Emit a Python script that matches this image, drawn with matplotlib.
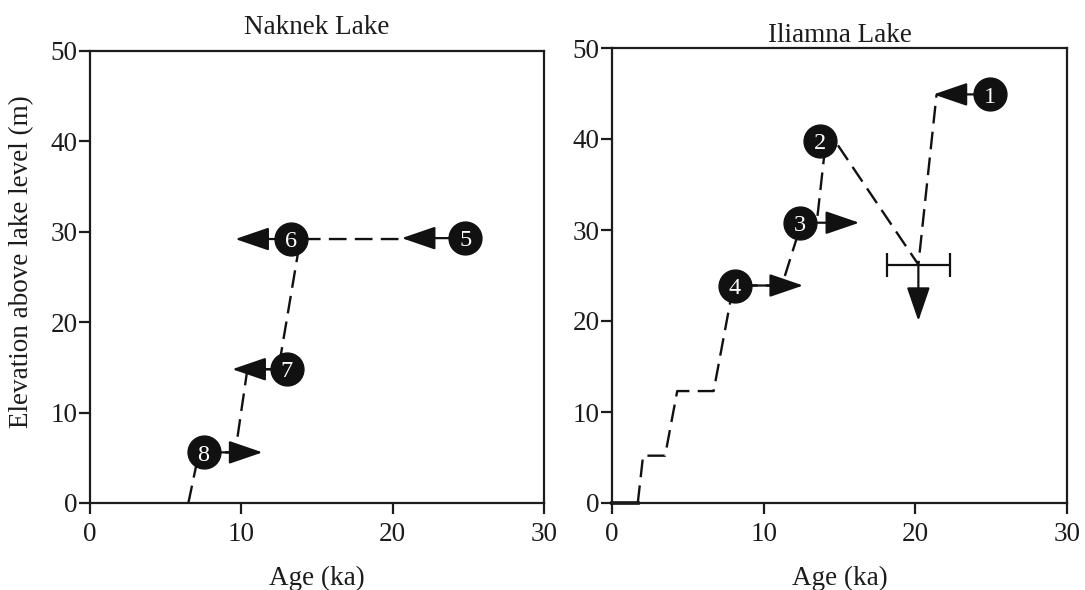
import matplotlib
matplotlib.use("Agg")
import matplotlib.pyplot as plt
from matplotlib.patches import FancyArrowPatch

plt.rcParams['font.family'] = ['Liberation Serif', 'DejaVu Serif']

# Naknek Lake: dated samples (age ka, elevation m) and arrow tips
naknek_ids = ['5', '6', '7', '8']
naknek_age = [24.8, 13.3, 13.0, 7.5]
naknek_elev = [29.3, 29.2, 14.8, 5.6]
naknek_tip = [20.6, 9.6, 9.4, 11.4]

# Naknek inferred lake-level curve
naknek_curve_age = [6.5, 7.2, 9.6, 10.4, 12.45, 13.9, 20.8]
naknek_curve_elev = [0, 5.6, 5.6, 14.8, 14.8, 29.2, 29.2]

# Iliamna Lake samples
iliamna_ids = ['1', '2', '3', '4']
iliamna_age = [24.9, 13.7, 12.4, 8.1]
iliamna_elev = [44.9, 39.8, 30.8, 23.9]
iliamna_tip = [21.2, None, 16.3, 12.6]

# Iliamna sample with age uncertainty (maximum elevation)
err_age = 20.2
err_elev = 26.2
err_xerr = 2.1
err_tip_elev = 20.0

# Iliamna lake-level curve
iliamna_base_age = [0, 1.7]
iliamna_base_elev = [0, 0]
iliamna_curve_age = [1.7, 2.05, 3.5, 4.3, 6.7, 8.0, 11.2, 12.5, 13.5, 14.1]
iliamna_curve_elev = [0, 5.2, 5.2, 12.3, 12.3, 23.9, 23.9, 30.8, 30.8, 39.8]
iliamna_upper_age = [14.9, 20.2, 21.4]
iliamna_upper_elev = [39.3, 26.2, 44.9]

fig = plt.figure(figsize=(10.85, 5.9), dpi=100)
ax1 = fig.add_axes([90 / 1085, 1 - 503 / 590, 454 / 1085, 452 / 590])
ax2 = fig.add_axes([612 / 1085, 1 - 503 / 590, 455 / 1085, 455 / 590])

DASH = (0, (7.5, 3.5))
FS = 19.5
INK = '#1c1c1c'


def style_axes(ax):
    ax.set_xlim(0, 30)
    ax.set_ylim(0, 50)
    ax.set_xticks([0, 10, 20, 30])
    ax.set_yticks([0, 10, 20, 30, 40, 50])
    for s in ax.spines.values():
        s.set_linewidth(1.6)
        s.set_color(INK)
    ax.tick_params(direction='out', length=8, width=1.6, labelsize=FS,
                   colors=INK)
    ax.tick_params(axis='x', pad=6)
    ax.tick_params(axis='y', pad=1)
    ax.set_xlabel('Age (ka)', fontsize=FS, labelpad=13, color=INK)


def draw_arrow(ax, x0, y0, x1, y1):
    arr = FancyArrowPatch((x0, y0), (x1, y1),
                          arrowstyle='-|>,head_length=1.05,head_width=0.36',
                          mutation_scale=20, lw=1.6, color='#111111',
                          shrinkA=0, shrinkB=0, zorder=3)
    ax.add_patch(arr)


def draw_samples(ax, ids, ages, elevs, tips):
    for i, a, e, t in zip(ids, ages, elevs, tips):
        if t is not None:
            draw_arrow(ax, a, e, t, e)
    ax.scatter(ages, elevs, s=560, color='#111111', zorder=4)
    for i, a, e in zip(ids, ages, elevs):
        ax.text(a, e - 0.3, i, color='white', fontsize=17.5, ha='center',
                va='center', zorder=5)


# Naknek Lake
style_axes(ax1)
ax1.plot(naknek_curve_age, naknek_curve_elev, ls=DASH, lw=1.7,
         color='#111111', zorder=2)
draw_samples(ax1, naknek_ids, naknek_age, naknek_elev, naknek_tip)
ax1.set_title('Naknek Lake', fontsize=FS, pad=12, color=INK)
ax1.set_ylabel('Elevation above lake level (m)', fontsize=FS, color=INK)
ax1.yaxis.set_label_coords(-0.122, 0.535)

# Iliamna Lake
style_axes(ax2)
ax2.plot(iliamna_base_age, iliamna_base_elev, lw=2.6, color='#111111',
         zorder=2, clip_on=False)
ax2.plot(iliamna_curve_age, iliamna_curve_elev, ls=DASH, lw=1.7,
         color='#111111', zorder=2)
ax2.plot(iliamna_upper_age, iliamna_upper_elev, ls=DASH, lw=1.7,
         color='#111111', zorder=2)
ax2.errorbar([err_age], [err_elev], xerr=[err_xerr], fmt='none',
             ecolor='#111111', elinewidth=1.6, capsize=8.6, capthick=1.6,
             zorder=3)
draw_arrow(ax2, err_age, err_elev, err_age, err_tip_elev)
draw_samples(ax2, iliamna_ids, iliamna_age, iliamna_elev, iliamna_tip)
ax2.set_title('Iliamna Lake', fontsize=FS, pad=4, color=INK)

fig.savefig('out.png', dpi=100)
